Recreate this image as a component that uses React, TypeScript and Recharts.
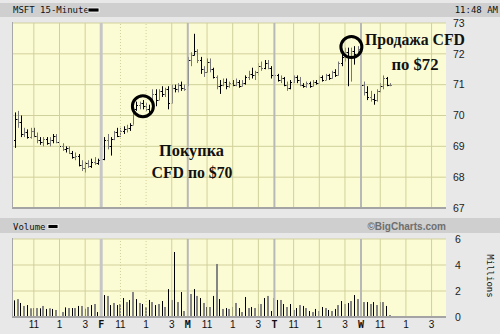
import { ComposedChart, Bar, XAxis, YAxis, CartesianGrid, ReferenceLine, ReferenceDot } from "recharts";

// MSFT 15-minute bars, Thu..Wed (27 slots per session, Wed cut at 11:48)
const openP = [
    69.2, 69.9, 69.8, 69.4, 69.45, 69.3, 69.5, 69.35, 69.2, 69.15, 69.25, 69.1, 69.2, 69.35, 69.15, 69.0, 68.9, 68.95, 68.8, 68.65, 68.7, 68.4, 68.3, 68.45, 68.35, 68.5, 68.45,
    68.9, 68.6, 69.2, 69.0, 69.25, 69.45, 69.35, 69.5, 69.55, 69.6, 69.7, 70.2, 70.35, 70.4, 70.3, 70.2, 70.1, 70.7, 70.5, 70.8, 70.7, 70.85, 70.4, 70.9, 70.85, 71.0, 70.9,
    71.0, 71.8, 71.95, 72.1, 71.8, 71.5, 71.4, 71.75, 71.5, 71.25, 70.95, 71.0, 71.1, 70.95, 71.05, 71.0, 71.1, 70.95, 71.05, 71.25, 71.35, 71.3, 71.4, 71.6, 71.55, 71.7, 71.55,
    71.3, 71.3, 71.15, 71.2, 71.0, 70.9, 71.1, 71.25, 71.15, 71.0, 70.95, 71.05, 70.95, 71.1, 71.05, 71.25, 71.15, 71.3, 71.2, 71.4, 71.3, 71.7, 71.9, 72.05, 71.9, 72.1, 72.0,
    71.3, 71.0, 70.75, 70.6, 70.55, 70.5, 70.8, 70.95, 71.2, 71.0,
];
const highP = [
    70.1, 70.15, 70.0, 69.6, 69.55, 69.6, 69.6, 69.45, 69.3, 69.3, 69.3, 69.3, 69.4, 69.4, 69.2, 69.1, 69.0, 69.0, 68.85, 68.8, 68.75, 68.55, 68.5, 68.55, 68.6, 68.65, 68.6,
    69.1, 69.3, 69.4, 69.3, 69.5, 69.6, 69.6, 69.65, 69.7, 69.75, 70.3, 70.45, 70.45, 70.5, 70.4, 70.35, 70.85, 70.85, 70.85, 70.95, 70.9, 70.95, 71.0, 71.0, 71.05, 71.1, 71.0,
    71.9, 72.05, 72.65, 72.15, 71.9, 71.6, 71.85, 71.85, 71.55, 71.3, 71.15, 71.2, 71.2, 71.1, 71.15, 71.2, 71.15, 71.15, 71.3, 71.45, 71.55, 71.45, 71.7, 71.75, 71.8, 71.8, 71.6,
    71.75, 71.35, 71.3, 71.25, 71.1, 71.15, 71.3, 71.3, 71.25, 71.05, 71.1, 71.1, 71.15, 71.15, 71.3, 71.3, 71.35, 71.35, 71.45, 71.5, 71.75, 72.0, 72.2, 72.2, 72.2, 72.25, 72.25,
    71.3, 71.1, 70.95, 70.8, 70.7, 70.85, 71.05, 71.3, 71.25, 71.05,
];
const lowP = [
    68.95, 69.6, 69.3, 69.3, 69.25, 69.25, 69.3, 69.1, 69.05, 69.0, 69.05, 69.0, 69.1, 69.1, 68.95, 68.85, 68.8, 68.75, 68.6, 68.55, 68.35, 68.2, 68.15, 68.3, 68.3, 68.4, 68.4,
    68.05, 68.55, 68.9, 68.7, 69.2, 69.3, 69.3, 69.4, 69.45, 69.5, 69.7, 70.15, 70.2, 70.2, 70.15, 70.05, 70.1, 70.3, 70.5, 70.6, 70.6, 70.2, 70.4, 70.75, 70.75, 70.8, 70.8,
    70.95, 71.6, 71.95, 71.7, 71.35, 71.25, 71.4, 71.4, 71.2, 70.85, 70.7, 70.95, 70.85, 70.9, 70.95, 70.95, 70.9, 70.95, 71.0, 71.15, 71.2, 71.15, 71.3, 71.45, 71.5, 71.5, 71.2,
    71.15, 71.1, 71.05, 70.95, 70.8, 70.85, 71.05, 71.05, 70.95, 70.9, 70.9, 70.9, 70.95, 71.0, 71.05, 71.1, 71.15, 71.15, 71.2, 71.25, 71.3, 71.6, 71.75, 70.95, 71.1, 71.65, 71.95,
    70.85, 70.65, 70.5, 70.45, 70.35, 70.45, 70.75, 70.85, 70.95, 70.95,
];
const closeP = [
    69.9, 69.8, 69.4, 69.45, 69.3, 69.5, 69.35, 69.2, 69.15, 69.25, 69.1, 69.2, 69.35, 69.15, 69.0, 68.9, 68.95, 68.8, 68.65, 68.7, 68.4, 68.3, 68.45, 68.35, 68.5, 68.45, 68.55,
    68.6, 69.2, 69.0, 69.25, 69.45, 69.35, 69.5, 69.55, 69.6, 69.7, 70.2, 70.35, 70.4, 70.3, 70.2, 70.1, 70.7, 70.5, 70.8, 70.7, 70.85, 70.4, 70.9, 70.85, 71.0, 70.9, 70.85,
    71.8, 71.95, 72.1, 71.8, 71.5, 71.4, 71.75, 71.5, 71.25, 70.95, 71.0, 71.1, 70.95, 71.05, 71.0, 71.1, 70.95, 71.05, 71.25, 71.35, 71.3, 71.4, 71.6, 71.55, 71.7, 71.55, 71.3,
    71.3, 71.15, 71.2, 71.0, 70.9, 71.1, 71.25, 71.15, 71.0, 70.95, 71.05, 70.95, 71.1, 71.05, 71.25, 71.15, 71.3, 71.2, 71.4, 71.3, 71.7, 71.9, 72.05, 71.9, 72.1, 72.0, 72.15,
    71.0, 70.75, 70.6, 70.55, 70.5, 70.8, 70.95, 71.2, 71.0, 71.0,
];
// millions of shares
const volume = [
    1.28, 1.38, 1.08, 0.85, 0.92, 0.67, 0.69, 0.69, 0.67, 0.85, 0.62, 0.67, 0.62, 0.54, 0.54, 0.38, 0.74, 0.69, 0.69, 0.69, 0.85, 0.85, 0.64, 0.77, 0.92, 1.0, 0.38,
    1.38, 1.69, 1.62, 0.92, 1.08, 0.92, 1.0, 1.46, 1.15, 1.31, 1.92, 1.38, 1.08, 1.0, 0.77, 1.31, 1.15, 0.92, 1.0, 1.23, 0.77, 2.15, 1.31, 5.0, 1.15, 1.92, 0.46,
    2.0, 1.77, 2.15, 1.62, 1.46, 1.08, 0.77, 0.77, 1.62, 4.08, 1.38, 0.62, 0.69, 0.62, 0.77, 1.08, 0.69, 0.38, 1.54, 0.69, 0.77, 0.69, 1.0, 1.0, 1.46, 1.62, 0.46,
    1.46, 1.31, 1.31, 1.0, 0.77, 1.0, 0.54, 0.69, 0.92, 0.85, 0.69, 0.46, 0.38, 0.62, 0.46, 0.77, 0.69, 0.54, 0.46, 0.62, 0.92, 1.23, 1.0, 1.08, 1.23, 1.69, 1.38,
    0.69, 1.15, 1.15, 1.0, 1.15, 0.92, 1.15, 1.15, 0.85, 0.15,
];

const SLOT_COUNT = 135;
const dayStarts = [0, 27, 54, 81, 108];
const dayLetters = ["", "F", "M", "T", "W"];
const hourOffsets = [6, 14, 22];
const hourLabels = ["11", "1", "3"];
const dottedSlots = [33, 41];
const priceTicks = [67, 68, 69, 70, 71, 72, 73];
const volumeTicks = [0, 2, 4, 6];

const tickLabels: Record<number, string> = {};
dayStarts.forEach((d, i) => {
    if (dayLetters[i]) tickLabels[d] = dayLetters[i];
    hourOffsets.forEach((h, j) => {
        tickLabels[d + h] = hourLabels[j];
    });
});
const tickSlots = Object.keys(tickLabels).map(Number).sort((a, b) => a - b);
const hourSlots = tickSlots.filter((k) => !dayStarts.includes(k));

const rows = Array.from({ length: SLOT_COUNT }, (_, k) =>
    k < openP.length
        ? {
              k,
              range: [lowP[k], highP[k]],
              open: openP[k],
              high: highP[k],
              low: lowP[k],
              close: closeP[k],
              vol: volume[k],
          }
        : { k }
);

const GRID = "#d0d09c";
const PLOT_BG = "#fcfcd4";
const DAY_LINE = "#b8b8b8";
const MONO = "'DejaVu Sans Mono', monospace";
const SANS = "'Liberation Sans', Arial, sans-serif";

function OhlcShape(props: any) {
    const { x, y, width, height, payload } = props;
    if (!payload || payload.high == null) return null;
    const top = Math.min(y, y + height);
    const h = Math.abs(height);
    const cx = Math.round(x + width / 2) + 0.5;
    const span = payload.high - payload.low;
    const py = (p: number) =>
        Math.round(span > 0 ? top + ((payload.high - p) / span) * h : top) + 0.5;
    const color = payload.k % 2 === 0 ? "#000" : "#777";
    return (
        <g stroke={color} strokeWidth={1}>
            <line x1={cx} x2={cx} y1={top} y2={top + Math.max(h, 1)} />
            <line x1={cx - 1.5} x2={cx} y1={py(payload.open)} y2={py(payload.open)} />
            <line x1={cx} x2={cx + 1.5} y1={py(payload.close)} y2={py(payload.close)} />
        </g>
    );
}

function VolShape(props: any) {
    const { x, y, width, height, payload } = props;
    if (!payload || !payload.vol) return null;
    const odd = payload.k % 2 === 1;
    const w = odd ? 2 : 1;
    const cx = x + width / 2;
    return (
        <rect
            x={Math.round(cx - w / 2)}
            y={y}
            width={w}
            height={height}
            fill={odd ? "#858585" : "#000"}
        />
    );
}

function XTick({ x, y, payload }: any) {
    const label = tickLabels[payload.value] ?? "";
    const isDay = /[A-Z]/.test(label);
    return (
        <text
            x={x}
            y={y}
            dy="0.71em"
            textAnchor="middle"
            fontSize={10}
            fontWeight={isDay ? 700 : 400}
            fontFamily={isDay ? MONO : SANS}
            fill="#111"
        >
            {label}
        </text>
    );
}

function dayLines() {
    return dayStarts
        .filter((d) => d > 0)
        .map((d) => (
            <ReferenceLine
                key={"d" + d}
                x={d}
                stroke={d === 27 ? "#c6c6c6" : DAY_LINE}
                strokeWidth={d === 27 ? 3 : 2}
            />
        ));
}

function hourLines() {
    return hourSlots.map((k) => (
        <ReferenceLine
            key={"h" + k}
            x={k}
            stroke={GRID}
            strokeWidth={1}
            strokeDasharray={dottedSlots.includes(k) ? "1 2" : undefined}
        />
    ));
}

export default function App() {
    return (
        <div
            style={{
                position: "absolute",
                left: 0,
                top: 0,
                width: 500,
                height: 334,
                background: "#e8e8e8",
                overflow: "hidden",
            }}
        >
            {/* header bands */}
            <div
                style={{
                    position: "absolute",
                    left: 0,
                    top: 3,
                    width: 500,
                    height: 14,
                    background: "#cfcfcf",
                }}
            />
            <div
                style={{
                    position: "absolute",
                    left: 0,
                    top: 218,
                    width: 500,
                    height: 15,
                    background: "#cfcfcf",
                }}
            />

            <div style={{ position: "absolute", left: 0, top: 0 }}>
                <ComposedChart
                    width={500}
                    height={216}
                    data={rows}
                    margin={{ top: 23, right: 14, left: 13, bottom: 8 }}
                    barCategoryGap={0}
                >
                    <CartesianGrid vertical={false} stroke={GRID} fill={PLOT_BG} />
                    <XAxis dataKey="k" type="category" hide />
                    <YAxis
                        orientation="right"
                        width={40}
                        domain={[67, 73]}
                        ticks={priceTicks}
                        axisLine={false}
                        tickLine={false}
                        tickSize={0}
                        tickMargin={7}
                        tick={{ fontSize: 10.5, fill: "#222", fontFamily: SANS }}
                    />
                    {hourLines()}
                    {dayLines()}
                    <ReferenceLine y={67} stroke="#a4a4a4" strokeWidth={2} />
                    <Bar dataKey="range" shape={<OhlcShape />} isAnimationActive={false} />
                    <ReferenceDot x={40} y={70.3} r={10.5} fill="none" stroke="#000" strokeWidth={3} />
                    <ReferenceDot x={105} y={72.22} r={10.5} fill="none" stroke="#000" strokeWidth={3} />
                </ComposedChart>
            </div>

            <div style={{ position: "absolute", left: 0, top: 232 }}>
                <ComposedChart
                    width={500}
                    height={102}
                    data={rows}
                    margin={{ top: 7, right: 14, left: 13, bottom: 0 }}
                    barCategoryGap={0}
                >
                    <CartesianGrid vertical={false} stroke={GRID} fill={PLOT_BG} />
                    <XAxis
                        dataKey="k"
                        type="category"
                        height={17}
                        ticks={tickSlots}
                        interval={0}
                        axisLine={false}
                        tickLine={false}
                        tickSize={0}
                        tickMargin={4}
                        tick={<XTick />}
                    />
                    <YAxis
                        orientation="right"
                        width={40}
                        domain={[0, 6]}
                        ticks={volumeTicks}
                        axisLine={false}
                        tickLine={false}
                        tickSize={0}
                        tickMargin={9}
                        tick={{ fontSize: 10.5, fill: "#222", fontFamily: SANS }}
                    />
                    {hourLines()}
                    {dayLines()}
                    <ReferenceLine y={0} stroke="#a4a4a4" strokeWidth={2} />
                    <Bar dataKey="vol" shape={<VolShape />} isAnimationActive={false} />
                </ComposedChart>
            </div>

            {/* left plot edges */}
            <div style={{ position: "absolute", left: 12, top: 22, width: 1, height: 187, background: "#a8a8a8" }} />
            <div style={{ position: "absolute", left: 12, top: 238, width: 1, height: 80, background: "#a8a8a8" }} />

            <svg
                width={500}
                height={334}
                style={{ position: "absolute", left: 0, top: 0, pointerEvents: "none" }}
            >
                <text x={13} y={12.5} fontFamily={MONO} fontSize={9} fill="#111">
                    MSFT 15-Minute
                </text>
                <rect x={88} y={8} width={11} height={4} fill="#000" stroke="#fff" strokeWidth={0.8} />
                <text x={498} y={12.5} textAnchor="end" fontFamily={MONO} fontSize={9} fill="#111">
                    11:48 AM
                </text>
                <text x={13} y={229.5} fontFamily={MONO} fontSize={9} fill="#111">
                    Volume
                </text>
                <rect x={48} y={224.5} width={10} height={4} fill="#000" stroke="#fff" strokeWidth={0.8} />
                <text x={446} y={229.5} textAnchor="end" fontFamily={SANS} fontWeight={700} fontSize={10} fill="#6e6e6e">
                    ©BigCharts.com
                </text>
                <text
                    x={490}
                    y={276}
                    textAnchor="middle"
                    dominantBaseline="central"
                    fontFamily={MONO}
                    fontSize={9}
                    fill="#111"
                    transform="rotate(90 490 276)"
                >
                    Millions
                </text>

                <g fontFamily="'Liberation Serif', 'Times New Roman', serif" fontWeight={700} fill="#111">
                    <text x={191.5} y={156} fontSize={16.5} textAnchor="middle" textLength={65} lengthAdjust="spacingAndGlyphs">
                        Покупка
                    </text>
                    <text x={192} y={178} fontSize={16.5} textAnchor="middle" textLength={81} lengthAdjust="spacingAndGlyphs">
                        CFD по $70
                    </text>
                    <text x={415} y={45} fontSize={16} textAnchor="middle" textLength={100} lengthAdjust="spacingAndGlyphs">
                        Продажа CFD
                    </text>
                    <text x={415} y={69.5} fontSize={16.5} textAnchor="middle" textLength={47} lengthAdjust="spacingAndGlyphs">
                        по $72
                    </text>
                </g>
            </svg>
        </div>
    );
}
